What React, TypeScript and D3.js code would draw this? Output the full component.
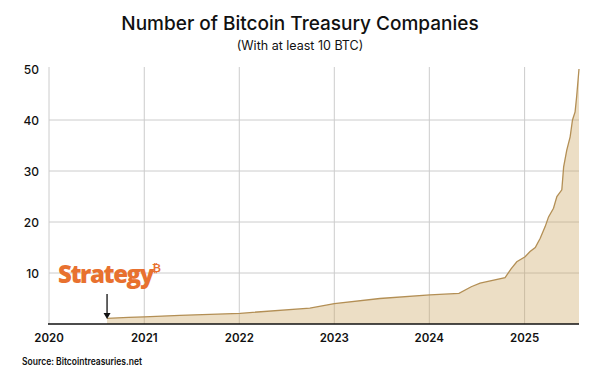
import React from "react";
import * as d3 from "d3";

const dates: string[] = [
  "2020-08-11", "2020-11-01", "2021-01-01", "2021-05-18", "2022-01-04", "2022-09-29",
  "2023-01-01", "2023-06-25", "2024-01-03", "2024-04-24", "2024-06-10", "2024-07-14",
  "2024-10-18", "2024-11-10", "2024-12-02", "2025-01-03", "2025-01-22", "2025-02-11",
  "2025-03-02", "2025-03-21", "2025-04-03", "2025-04-22", "2025-05-05", "2025-05-24",
  "2025-05-31", "2025-06-12", "2025-06-25", "2025-07-04", "2025-07-14", "2025-07-20",
  "2025-07-29",
];
const counts: number[] = [
  1.1, 1.3, 1.4, 1.7, 2.1, 3.1,
  4.0, 5.0, 5.7, 6.0, 7.3, 8.0,
  9.1, 10.8, 12.2, 13.2, 14.2, 15.0,
  16.8, 19.1, 21.0, 22.7, 25.0, 26.3,
  30.8, 34.1, 36.7, 40.0, 41.6, 44.6,
  50.0,
];
const xTicks: string[] = ["2020", "2021", "2022", "2023", "2024", "2025"];
const yTicks: number[] = [10, 20, 30, 40, 50];
const yGrid: number[] = [10, 20, 30, 40];

const title = "Number of Bitcoin Treasury Companies";
const subtitle = "(With at least 10 BTC)";
const source = "Source: Bitcointreasuries.net";

export default function App() {
  const W = 600, H = 375;
  const left = 49, right = 579, top = 69, bottom = 324;
  const parse = d3.timeParse("%Y-%m-%d");
  const data = dates.map((d, i) => ({ date: parse(d) as Date, v: counts[i] }));
  const x = d3
    .scaleTime()
    .domain([new Date(2020, 0, 1), parse("2025-07-29") as Date])
    .range([left, right]);
  const y = d3.scaleLinear().domain([0, 50]).range([bottom, top]);
  const area = d3
    .area<{ date: Date; v: number }>()
    .x((d) => x(d.date))
    .y0(y(0))
    .y1((d) => y(d.v));
  const line = d3
    .line<{ date: Date; v: number }>()
    .x((d) => x(d.date))
    .y((d) => y(d.v));
  const startX = x(data[0].date);
  const font = "Inter, 'Noto Sans', sans-serif";

  return (
    <svg width={W} height={H} style={{ position: "absolute", left: 0, top: 0, background: "#fff" }}>
      <text x={300} y={30} textAnchor="middle" fontFamily={font} fontSize={19} fontWeight={500} fill="#111">
        {title}
      </text>
      <text x={300} y={50} textAnchor="middle" fontFamily={font} fontSize={12.5} fontWeight={400} fill="#111">
        {subtitle}
      </text>
      {yGrid.map((t) => (
        <line key={"h" + t} x1={left} x2={right} y1={y(t)} y2={y(t)} stroke="#cccccc" strokeWidth={1} />
      ))}
      {xTicks.map((t) => {
        const xx = x(new Date(+t, 0, 1));
        return <line key={"v" + t} x1={xx} x2={xx} y1={67} y2={bottom} stroke="#cccccc" strokeWidth={1} />;
      })}
      <path d={area(data) || ""} fill="#C9A45E" fillOpacity={0.36} />
      <path d={line(data) || ""} fill="none" stroke="#B38F55" strokeWidth={1.3} />
      <line x1={left - 1} x2={right} y1={bottom} y2={bottom} stroke="#111" strokeWidth={1.6} />
      {yTicks.map((t) => (
        <text key={"yl" + t} x={39} y={y(t) + 4.5} textAnchor="end" fontFamily={font} fontSize={12} fontWeight={500} fill="#111">
          {t}
        </text>
      ))}
      {xTicks.map((t) => (
        <text key={"xl" + t} x={x(new Date(+t, 0, 1))} y={342} textAnchor="middle" fontFamily={font} fontSize={11.5} fontWeight={600} fill="#111">
          {t}
        </text>
      ))}
      <text x={22} y={365} fontFamily={font} fontSize={10} fontWeight={600} fill="#111" textLength={120} lengthAdjust="spacingAndGlyphs">
        {source}
      </text>
      <text x={58} y={283} fontFamily="'Open Sans', Roboto, sans-serif" fontSize={24} fontWeight={800} letterSpacing={-1.4} fill="#E8712F">
        Strategy
        <tspan dx={-1} dy={-11} fontSize={11} letterSpacing={0}>₿</tspan>
      </text>
      <line x1={startX} x2={startX} y1={294} y2={315} stroke="#111" strokeWidth={1.3} />
      <path d={`M${startX - 3.5},${313} L${startX + 3.5},${313} L${startX},${319} Z`} fill="#111" />
    </svg>
  );
}
